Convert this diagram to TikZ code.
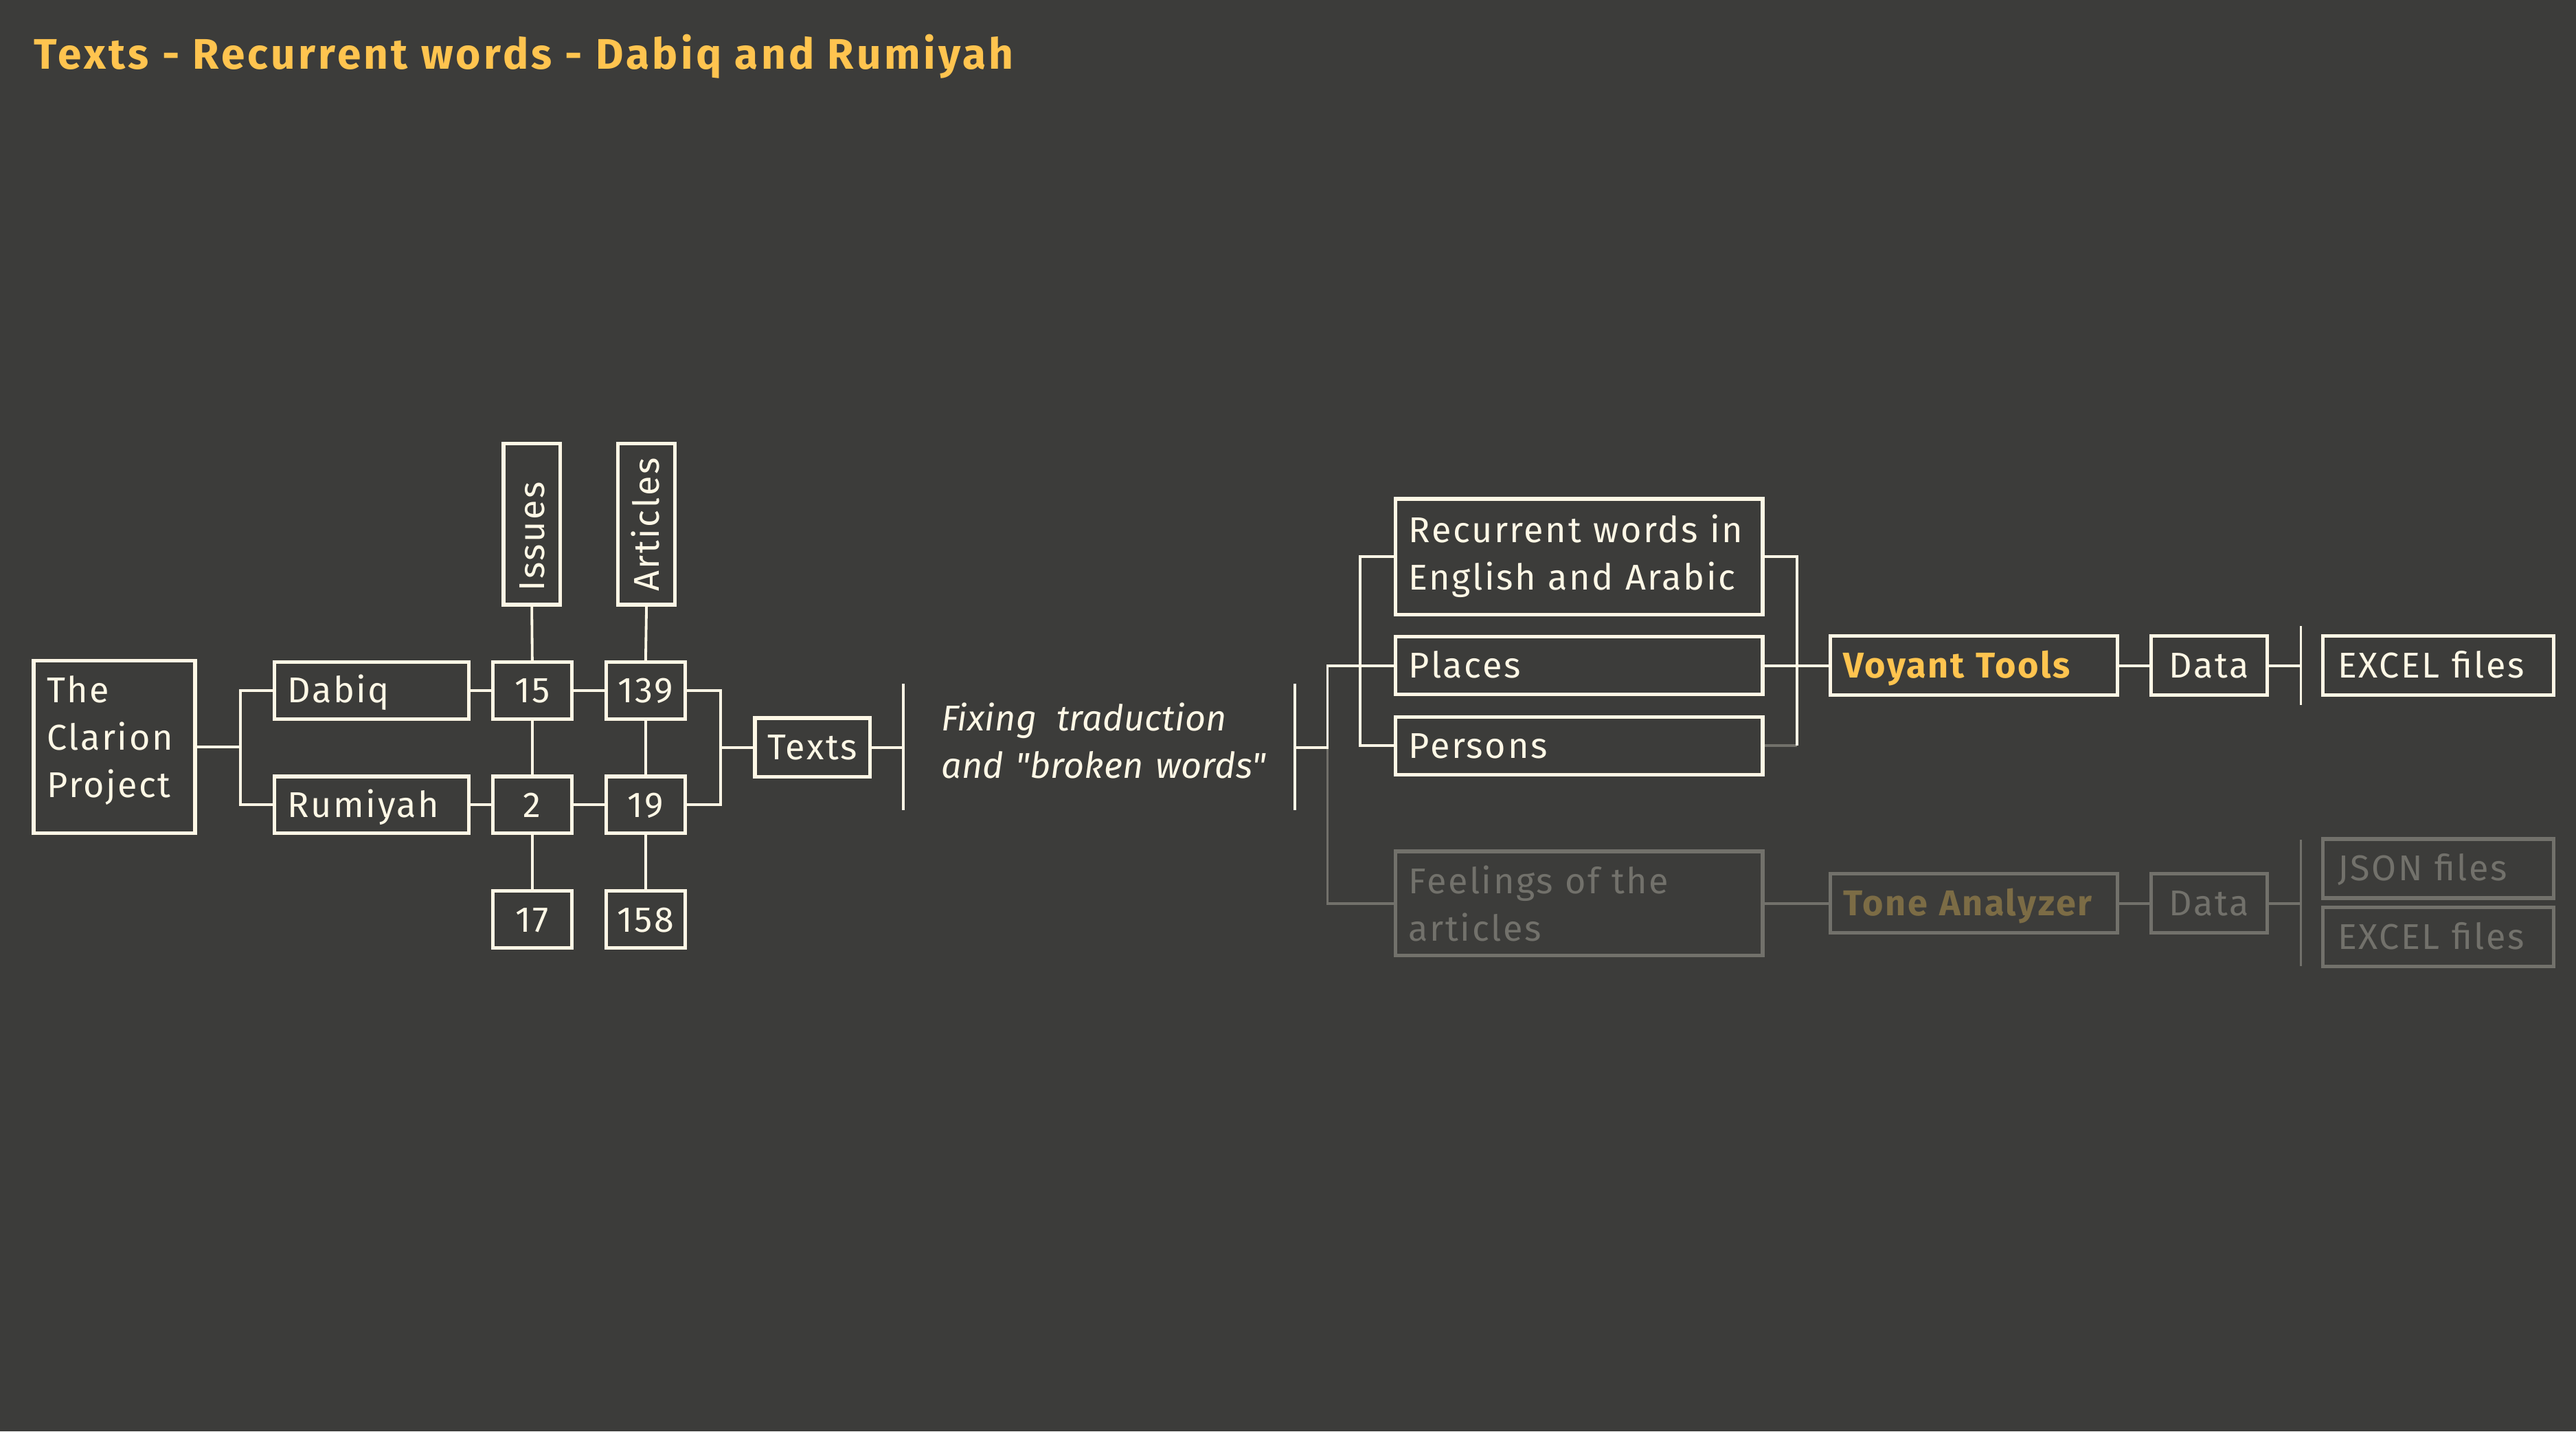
\documentclass[tikz,border=0pt]{standalone}
\usepackage{fontspec}
\setmainfont{Fira Sans}[LetterSpace=5]
\newfontfamily\fixfont{Fira Sans}[Ligatures=ResetAll, LetterSpace=0.5]
\newfontfamily\titlefont{Fira Sans}[LetterSpace=7]
\definecolor{bg}{HTML}{3C3C3A}
\definecolor{cream}{HTML}{FFF8E6}
\definecolor{fade}{HTML}{72716B}
\definecolor{gold}{HTML}{FFC44F}
\definecolor{dgold}{HTML}{7C6C45}
\begin{document}
\begin{tikzpicture}[x=0.5pt,y=-0.5pt,
  box/.style={draw=cream, text=cream, line width=1.1pt, inner xsep=4pt, inner ysep=0pt,
    text height=7.5pt, text depth=0pt, align=left, font=\fontsize{10.9}{14.5}\selectfont},
  num/.style={box, align=center, inner xsep=0pt, minimum width=24pt, minimum height=17.25pt},
  fbox/.style={box, draw=fade, text=fade},
  conn/.style={draw=cream, line width=0.8pt},
  fconn/.style={draw=fade, line width=0.8pt},
  bar/.style={draw=cream, line width=0.8pt},
  fbar/.style={draw=fade, line width=0.8pt}]
\fill[bg] (0,0) rectangle (1568,871);
\useasboundingbox (0,0) rectangle (1568,871);

\node[anchor=base west, text=gold, font=\titlefont\fontsize{13}{15}\selectfont\bfseries, inner sep=0pt] (title) at (20.5,42.1) {Texts - Recurrent words - Dabiq and Rumiyah};

% left part
\node[box, minimum width=49.1pt, minimum height=52.5pt, text width=41.1pt, text depth=34.6pt] (clarion) at (69.6,454.5) {The\\Clarion\\Project};
\node[box, minimum width=59.25pt, minimum height=17.25pt, text width=51.25pt] (dabiq) at (226.2,420.2) {Dabiq};
\node[box, minimum width=59.25pt, minimum height=17.25pt, text width=51.25pt] (rumiyah) at (226.2,489.7) {Rumiyah};
\node[num] (n15) at (324,420.2) {15};
\node[num] (n2) at (324,489.7) {2};
\node[num] (n17) at (324,559.5) {17};
\node[num] (n139) at (393,420.2) {139};
\node[num] (n19) at (393,489.7) {19};
\node[num] (n158) at (393,559.5) {158};
\node[box, rotate=90, minimum width=49pt, minimum height=17.25pt, text width=41pt] (issues) at (323.7,319) {Issues};
\node[box, rotate=90, minimum width=49pt, minimum height=17.25pt, text width=41pt] (articles) at (393.5,319) {Articles};
\node[num, minimum width=35pt, minimum height=17.85pt] (texts) at (494.5,454.8) {Texts};

\coordinate (j1) at (146.3,454.5);
\draw[conn] (clarion.east) -- (j1);
\draw[conn] (dabiq.west) -| (j1) |- (rumiyah.west);
\draw[conn] (dabiq.east) -- (n15.west);
\draw[conn] (n15.east) -- (n139.west);
\draw[conn] (rumiyah.east) -- (n2.west);
\draw[conn] (n2.east) -- (n19.west);
\draw[conn] (issues.west) -- (n15.north);
\draw[conn] (n15.south) -- (n2.north);
\draw[conn] (n2.south) -- (n17.north);
\draw[conn] (articles.west) -- (n139.north);
\draw[conn] (n139.south) -- (n19.north);
\draw[conn] (n19.south) -- (n158.north);
\coordinate (j2) at (438.6,454.8);
\draw[conn] (n139.east) -| (j2) |- (n19.east);
\draw[conn] (j2) -- (texts.west);

\coordinate (b1t) at (550,416);
\coordinate (b1b) at (550,493);
\coordinate (b1) at (550,454.8);
\draw[bar] (b1t) -- (b1b);
\draw[conn] (texts.east) -- (b1);

\node[anchor=west, text=cream, inner sep=0pt, font=\fixfont\fontsize{10.9}{14.5}\selectfont\itshape, align=left, text width=110pt, text height=7.5pt, text depth=14.5pt] (fixing) at (572.5,451.5) {Fixing\hspace{0.55em}traduction\\and "broken words"};

\coordinate (b2t) at (788,416);
\coordinate (b2b) at (788,493);
\coordinate (b2) at (788,454.8);
\coordinate (j3) at (808,454.8);
\draw[bar] (b2t) -- (b2b);

% middle boxes
\node[box, minimum width=111.75pt, minimum height=35.2pt, text width=103.75pt, text depth=16.3pt] (recurrent) at (961.2,338.8) {Recurrent words in\\English and Arabic};
\node[box, minimum width=111.75pt, minimum height=17.5pt, text width=103.75pt] (places) at (961.2,405) {Places};
\node[box, minimum width=111.75pt, minimum height=17.5pt, text width=103.75pt] (persons) at (961.2,453.8) {Persons};
\node[fbox, minimum width=111.75pt, minimum height=31.65pt, text width=103.75pt, text depth=13.5pt] (feelings) at (961.2,549.7) {Feelings of the\\articles};

\draw[fconn] (j3) |- (feelings.west);
\draw[conn] (b2) -- (j3) |- (places.west);
\draw[conn] (recurrent.west) -- ++(-20.5,0) |- (persons.west);

\coordinate (j5a) at (1093.7,338.8);
\coordinate (j5b) at (1093.7,453.8);
\draw[fconn] (persons.east) -- (j5b);
\draw[conn] (recurrent.east) -- (j5a) -- (j5b);

% right part
\node[box, text=gold, font=\fontsize{10.9}{14.5}\selectfont\bfseries, minimum width=87.5pt, minimum height=18pt, text width=79.5pt] (voyant) at (1201.5,405) {Voyant Tools};
\node[num, minimum width=35.25pt, minimum height=18pt] (data1) at (1344.7,405) {Data};
\node[box, minimum width=70.25pt, minimum height=18pt, text width=61.25pt, inner xsep=4.5pt] (excel1) at (1484.2,405) {EXCEL files};
\draw[conn] (places.east) -- (voyant.west);
\draw[conn] (voyant.east) -- (data1.west);
\coordinate (b3t) at (1400.5,381);
\coordinate (b3b) at (1400.5,429);
\coordinate (b3) at (1400.5,405);
\draw[bar] (b3t) -- (b3b);
\draw[conn] (data1.east) -- (b3);

\node[fbox, text=dgold, font=\fontsize{10.9}{14.5}\selectfont\bfseries, minimum width=87.5pt, minimum height=18pt, text width=79.5pt] (tone) at (1201.5,549.7) {Tone Analyzer};
\node[num, draw=fade, text=fade, minimum width=35.25pt, minimum height=18pt] (data2) at (1344.7,549.7) {Data};
\node[fbox, minimum width=70.25pt, minimum height=18pt, text width=61.25pt, inner xsep=4.5pt] (json) at (1484.2,528.5) {JSON files};
\node[fbox, minimum width=70.25pt, minimum height=18pt, text width=61.25pt, inner xsep=4.5pt] (excel2) at (1484.2,570) {EXCEL files};
\draw[fconn] (feelings.east) -- (tone.west);
\draw[fconn] (tone.east) -- (data2.west);
\coordinate (b4t) at (1400.5,511);
\coordinate (b4b) at (1400.5,588);
\coordinate (b4) at (1400.5,549.7);
\draw[fbar] (b4t) -- (b4b);
\draw[fconn] (data2.east) -- (b4);
\end{tikzpicture}
\end{document}
